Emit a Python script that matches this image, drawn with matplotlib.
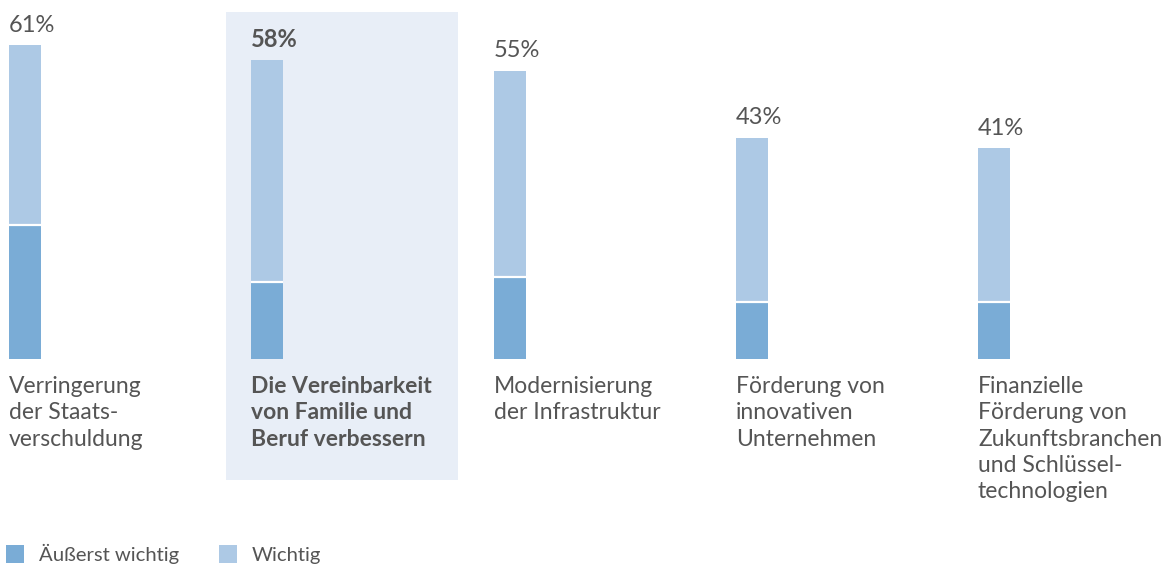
import matplotlib.pyplot as plt
from matplotlib.patches import Rectangle

categories = [
    "Verringerung\nder Staats-\nverschuldung",
    "Die Vereinbarkeit\nvon Familie und\nBeruf verbessern",
    "Modernisierung\nder Infrastruktur",
    "Förderung von\ninnovativen\nUnternehmen",
    "Finanzielle\nFörderung von\nZukunftsbranchen\nund Schlüssel-\ntechnologien",
]
totals = [61, 58, 55, 43, 41]
aeusserst = [26, 15, 16, 11, 11]
wichtig = [35, 43, 40, 32, 30]
highlight = 1

dark = "#7aacd6"
light = "#adc9e5"
textc = "#555555"
plt.rcParams['font.family'] = ['Lato', 'DejaVu Sans']
fs = 16.5

W, H = 1166, 565
fig = plt.figure(figsize=(W / 100, H / 100), dpi=100)

# highlight box behind the second category
fig.patches.append(Rectangle((226 / W, 85 / H), 232 / W, 468 / H,
                             transform=fig.transFigure, facecolor="#e8eef7",
                             edgecolor="none", zorder=-1))

step = 242.25
x0 = 25 - 0.1 * step
ax = fig.add_axes([x0 / W, 206 / H, 4.8 * step / W, 68 * 5.15 / H])
ax.set_xlim(-0.1, 4.7)
ax.set_ylim(0, 68)
ax.patch.set_alpha(0)
ax.axis("off")

bw = 32 / step
xs = range(len(categories))
tops = [a + b for a, b in zip(aeusserst, wichtig)]
ax.bar(xs, aeusserst, width=bw, color=dark, zorder=2)
ax.bar(xs, wichtig, width=bw, bottom=aeusserst, color=light, zorder=2)
ax.hlines(aeusserst, [x - bw / 2 for x in xs], [x + bw / 2 for x in xs],
          color="white", lw=1.6, zorder=3)

for i in xs:
    bold = "bold" if i == highlight else "normal"
    ax.annotate(f"{totals[i]}%", (i - bw / 2, tops[i]), xytext=(0, 9.5),
                textcoords="offset points", ha="left", va="baseline",
                fontsize=17, color=textc, fontweight=bold)
    ax.annotate(categories[i], (i - bw / 2, 0), xytext=(0, -12),
                textcoords="offset points", ha="left", va="top",
                fontsize=fs, color=textc, fontweight=bold, linespacing=1.32)

# legend
for lx, col, lab in [(6, dark, "Äußerst wichtig"), (219, light, "Wichtig")]:
    fig.patches.append(Rectangle((lx / W, 2 / H), 18 / W, 18 / H,
                                 transform=fig.transFigure, facecolor=col,
                                 edgecolor="none"))
    fig.text((lx + 33) / W, 4 / H, lab, fontsize=14.6, color=textc,
             ha="left", va="baseline")

fig.savefig("out.png", dpi=100)
